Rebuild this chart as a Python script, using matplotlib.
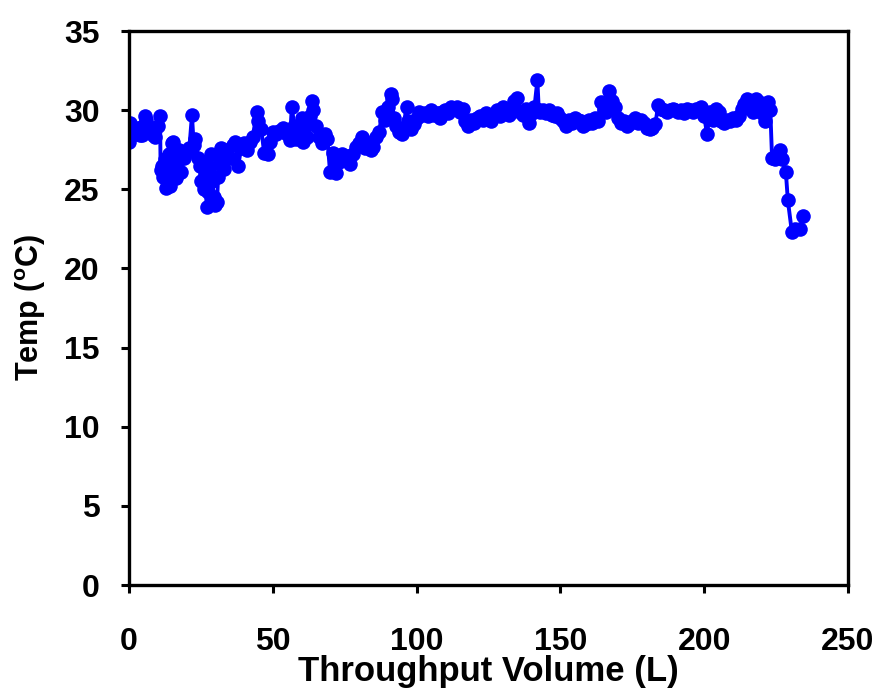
import matplotlib
matplotlib.use("Agg")
import matplotlib.pyplot as plt

plt.rcParams['font.family'] = ['Liberation Sans', 'DejaVu Sans']
plt.rcParams['font.weight'] = 'bold'
plt.rcParams['mathtext.fontset'] = 'custom'
plt.rcParams['mathtext.rm'] = 'Liberation Sans:bold'
plt.rcParams['mathtext.bf'] = 'Liberation Sans:bold'

# throughput volume (L) and temperature (degC)
volume = [
    0, 0.5, 1, 2, 3, 4, 4.5, 5, 5.6, 6, 7, 8, 8.4, 9, 10, 10.8,
    11, 11.5, 12, 12.5, 13, 13.5, 14, 14.3, 15, 15.3, 16, 16.5, 17, 17.5,
    18, 19, 20, 21, 21.9, 22.5, 23, 24, 24.7, 25, 25.5, 26, 26.5, 27, 27.5,
    28, 28.5, 29, 29.5, 30, 30.6, 31, 31.5, 32, 33, 33.5, 34, 35, 36, 37,
    38, 39, 40, 41, 42, 43, 44.5, 45, 46, 47, 48.4, 49, 50, 51, 52, 53.5,
    54, 55, 56, 56.6, 57.5, 58, 59, 60, 60.5, 61, 62, 63, 63.6, 64, 65,
    66, 67, 68, 69, 69.9, 71, 72, 73, 74, 75, 76, 76.8, 78, 79, 80, 81,
    82, 83, 84, 85, 86, 87, 88, 89, 90, 91, 91.5, 92, 93, 94, 95, 96.5,
    97, 98, 99, 100, 101, 102, 103, 104, 105, 106, 107, 108, 109, 110, 111,
    112, 113, 114, 115, 116, 117, 118, 119, 120, 121, 122, 123, 124, 125,
    126, 127, 128, 129, 130, 131, 132, 133, 134, 135, 136, 137, 138, 139,
    140, 141, 142, 142.5, 143, 144, 145, 146, 147, 148, 149, 150, 151, 152,
    153, 154, 155, 156, 157, 158, 159, 160, 161, 162, 163, 164, 165, 166,
    167, 168, 169, 170, 171, 172, 173, 174, 175, 176, 177, 178, 179, 180,
    181, 182, 183, 184, 185, 186, 187, 188, 189, 190, 191, 192, 193, 194,
    195, 196, 197, 198, 199, 200, 201, 202, 203, 204, 205, 206, 207, 208,
    209, 210, 211, 212, 213, 214, 215, 216, 217, 218, 219, 220, 221, 222.2,
    223, 223.6, 224.5, 225.5, 226.4, 227, 228.4, 229.1, 230.5, 231.5,
    233.3, 234.4,
]
temp = [
    28.0, 29.2, 28.8, 28.5, 28.9, 28.4, 28.4, 29.0, 29.6, 29.4, 28.6, 28.9, 28.4, 28.3, 29.0, 29.6,
    26.2, 26.5, 25.8, 26.9, 25.1, 26.0, 27.2, 25.2, 27.9, 28.0, 26.4, 25.7, 26.8, 27.5,
    26.1, 27.0, 27.3, 27.6, 29.7, 27.8, 28.2, 27.0, 26.5, 25.5, 26.7, 25.0, 25.9, 23.9, 24.8,
    26.4, 27.2, 25.5, 24.5, 24.0, 24.2, 25.8, 26.9, 27.6, 26.3, 27.2, 27.5, 27.0, 27.8, 28.0,
    26.5, 27.6, 27.9, 27.5, 28.0, 28.3, 29.9, 29.3, 28.8, 27.3, 27.2, 28.0, 28.6, 28.5, 28.7, 28.9,
    28.6, 28.5, 28.1, 30.2, 29.0, 28.2, 28.3, 29.5, 28.0, 28.9, 28.3, 29.6, 30.6, 30.0, 29.0,
    28.3, 27.9, 28.5, 28.2, 26.1, 27.3, 26.0, 26.7, 27.2, 26.9, 27.1, 26.6, 27.2, 27.7, 27.9,
    28.3, 27.6, 27.9, 27.5, 27.7, 28.3, 28.6, 29.9, 29.4, 30.2, 31.0, 30.7, 29.5, 29.0, 28.6, 28.5,
    30.2, 29.3, 28.8, 29.1, 29.5, 29.9, 29.7, 29.8, 29.6, 30.0, 29.7, 29.8, 29.5, 29.9, 30.0,
    29.8, 30.2, 30.1, 30.2, 29.9, 30.1, 29.3, 29.0, 29.4, 29.2, 29.5, 29.6, 29.4, 29.8, 29.5,
    29.3, 29.7, 30.0, 29.6, 30.2, 29.8, 29.7, 30.0, 30.6, 30.8, 29.9, 29.7, 30.1, 29.2,
    29.8, 30.2, 31.9, 30.0, 29.9, 30.0, 29.8, 30.0, 29.7, 29.6, 29.8, 29.5, 29.3, 29.0,
    29.4, 29.2, 29.5, 29.4, 29.3, 29.0, 29.1, 29.4, 29.2, 29.5, 29.3, 30.5, 30.1, 29.9,
    31.2, 30.6, 30.2, 29.5, 29.2, 29.3, 29.0, 29.1, 29.3, 29.5, 29.2, 29.4, 29.2, 28.9,
    28.8, 28.9, 29.1, 30.3, 30.1, 30.0, 29.9, 30.0, 30.1, 30.0, 29.9, 30.0, 29.8, 30.1,
    30.0, 29.9, 30.1, 30.0, 30.2, 29.6, 28.5, 29.9, 29.4, 30.1, 29.9, 29.3, 29.2, 29.4,
    29.3, 29.5, 29.4, 29.6, 30.1, 30.4, 30.7, 30.5, 29.9, 30.7, 30.5, 29.8, 29.3, 30.5,
    30.0, 27.0, 26.9, 27.2, 27.5, 26.9, 26.1, 24.3, 22.3, 22.5,
    22.5, 23.3,
]

x_ticks = [0, 50, 100, 150, 200, 250]
y_ticks = [0, 5, 10, 15, 20, 25, 30, 35]

fig = plt.figure(figsize=(8.81, 6.91), dpi=100)
ax = fig.add_axes([0.1464, 0.1534, 0.8161, 0.8017])

ax.plot(volume, temp, color='#0000ff', linewidth=2.8, marker='o',
        markersize=10.5, markeredgewidth=0)

ax.set_xlim(0, 250)
ax.set_ylim(0, 35)
ax.set_xticks(x_ticks)
ax.set_yticks(y_ticks)

for s in ax.spines.values():
    s.set_linewidth(2.4)
ax.tick_params(axis='both', direction='out', length=6, width=2.2, labelsize=23)
ax.tick_params(axis='x', pad=24)
ax.tick_params(axis='y', pad=15)

ax.set_xlabel('Throughput Volume (L)', fontsize=25, fontweight='bold', labelpad=-1)
ax.set_ylabel(r'Temp ($^{\mathrm{o}}$C)', fontsize=22, fontweight='bold', labelpad=12)

plt.savefig('out.png', dpi=100)
